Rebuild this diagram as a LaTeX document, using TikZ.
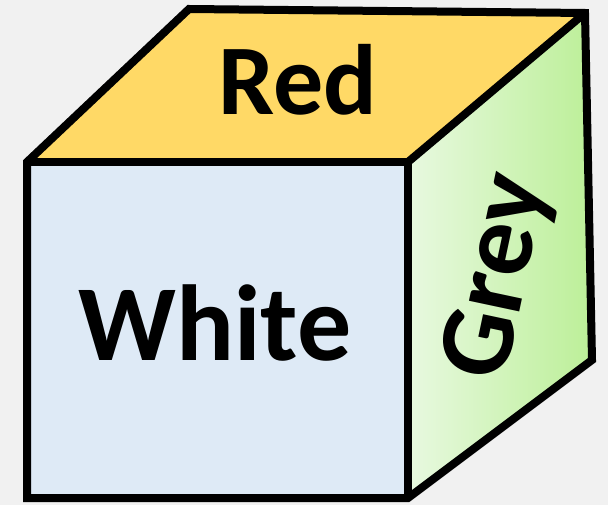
\documentclass[tikz,border=0pt]{standalone}
\usepackage{fontspec}
\setmainfont{Carlito}
\definecolor{bgc}{HTML}{F1F1F1}
\definecolor{topc}{HTML}{FFD966}
\definecolor{frontc}{HTML}{DEEAF6}
\definecolor{greenl}{HTML}{E8F9E0}
\definecolor{greenr}{HTML}{BCEF98}
\tikzset{
  face/.style={draw=black, line width=8pt, line join=miter},
  lbl/.style={font=\fontsize{#1}{#1}\selectfont\bfseries, inner sep=0pt, text=black},
}
\begin{document}
\begin{tikzpicture}[x=1pt,y=-1pt]
\fill[bgc] (0,0) rectangle (608,505);
\useasboundingbox (0,0) rectangle (608,505);
\coordinate (ftl) at (27,162);
\coordinate (ftr) at (408,162);
\coordinate (fbr) at (408,498);
\coordinate (fbl) at (27,498);
\coordinate (btl) at (189,9);
\coordinate (btr) at (585,13);
\coordinate (bbr) at (592,360);
\fill[topc] (ftl) -- (btl) -- (btr) -- (ftr) -- cycle;
\fill[frontc] (ftl) -- (ftr) -- (fbr) -- (fbl) -- cycle;
\shade[left color=greenl, right color=greenr] (ftr) -- (btr) -- (bbr) -- (fbr) -- cycle;
\node[lbl=100, anchor=base] (red) at (298,115) {Red};
\node[lbl=108, anchor=base] (white) at (215,360) {White};
\node[lbl=106, rotate=78] (grey) at (500,277) {Grey};
\draw[face] (ftl) -- (btl) -- (btr) -- (bbr) -- (fbr) -- (fbl) -- cycle;
\draw[face] (ftl) -- (ftr) -- (fbr);
\draw[face] (ftr) -- (btr);
\end{tikzpicture}
\end{document}
